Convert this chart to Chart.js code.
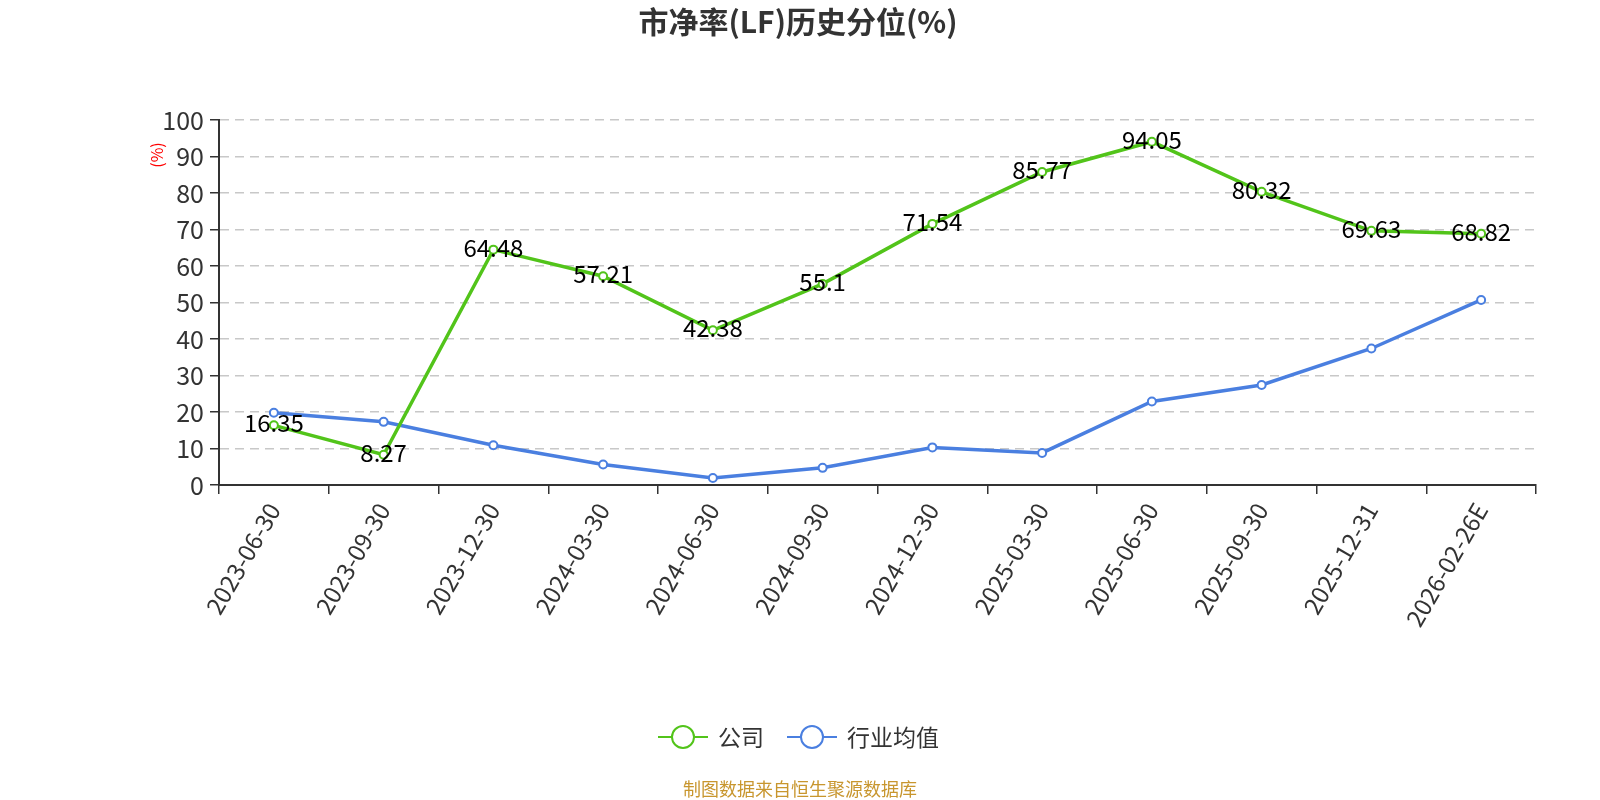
<!DOCTYPE html>
<html>
<head>
<meta charset="utf-8">
<script src="https://cdn.jsdelivr.net/npm/chart.js@4.4.0/dist/chart.umd.min.js"></script>
<style>
html,body{margin:0;padding:0;background:#fff;}
#wrap{width:1600px;height:800px;position:relative;}
</style>
</head>
<body>
<div id="wrap"><canvas id="c" width="1600" height="800"></canvas></div>
<script>
const categories = ['2023-06-30','2023-09-30','2023-12-30','2024-03-30','2024-06-30','2024-09-30','2024-12-30','2025-03-30','2025-06-30','2025-09-30','2025-12-31','2026-02-26E'];
const companyValues = [16.35, 8.27, 64.48, 57.21, 42.38, 55.1, 71.54, 85.77, 94.05, 80.32, 69.63, 68.82];
const industryValues = [19.8, 17.3, 10.9, 5.6, 1.9, 4.7, 10.3, 8.8, 22.9, 27.4, 37.4, 50.7];
const yTicks = [0,10,20,30,40,50,60,70,80,90,100];
const seriesNames = ['公司', '行业均值'];
const titleText = '市净率(LF)历史分位(%)';
const yAxisTitle = '(%)';
const sourceText = '制图数据来自恒生聚源数据库';

const GREEN = '#52c41a';
const BLUE = '#4a7fe0';
const FONT = '"Noto Sans CJK SC", "Noto Sans", sans-serif';

const overlay = {
  id: 'overlay',
  afterDatasetsDraw(chart) {
    const ctx = chart.ctx;
    const meta = chart.getDatasetMeta(0);
    ctx.save();
    ctx.font = '24px ' + FONT;
    ctx.fillStyle = '#000';
    ctx.textAlign = 'center';
    ctx.textBaseline = 'middle';
    meta.data.forEach((pt, i) => {
      ctx.fillText(String(companyValues[i]), pt.x, pt.y - 2);
    });
    ctx.restore();
  },
  afterDraw(chart) {
    const ctx = chart.ctx;
    ctx.save();
    // title
    ctx.font = 'bold 30px ' + FONT;
    ctx.fillStyle = '#333';
    ctx.textAlign = 'center';
    ctx.textBaseline = 'middle';
    ctx.fillText(titleText, 798, 22);
    // y axis title
    ctx.save();
    ctx.translate(157, 155);
    ctx.rotate(-Math.PI / 2);
    ctx.font = '16px ' + FONT;
    ctx.fillStyle = '#ff0000';
    ctx.fillText(yAxisTitle, 0, 0);
    ctx.restore();
    // legend
    const items = [
      {name: seriesNames[0], color: GREEN, cx: 683, tx: 718},
      {name: seriesNames[1], color: BLUE, cx: 812, tx: 847}
    ];
    const ly = 737;
    items.forEach(it => {
      ctx.strokeStyle = it.color;
      ctx.lineWidth = 2;
      ctx.beginPath();
      ctx.moveTo(it.cx - 25, ly);
      ctx.lineTo(it.cx + 25, ly);
      ctx.stroke();
      ctx.beginPath();
      ctx.arc(it.cx, ly, 11, 0, Math.PI * 2);
      ctx.fillStyle = '#fff';
      ctx.fill();
      ctx.stroke();
      ctx.font = '23px ' + FONT;
      ctx.fillStyle = '#333';
      ctx.textAlign = 'left';
      ctx.textBaseline = 'middle';
      ctx.fillText(it.name, it.tx, ly);
    });
    // source
    ctx.font = '18px ' + FONT;
    ctx.fillStyle = '#c8962e';
    ctx.textAlign = 'center';
    ctx.textBaseline = 'middle';
    ctx.fillText(sourceText, 800, 789);
    ctx.restore();
  }
};

new Chart(document.getElementById('c'), {
  type: 'line',
  data: {
    labels: categories,
    datasets: [
      {
        label: seriesNames[0],
        data: companyValues,
        borderColor: GREEN,
        backgroundColor: '#fff',
        borderWidth: 3.5,
        pointRadius: 4,
        pointBorderWidth: 2,
        pointBorderColor: GREEN,
        pointBackgroundColor: '#fff',
        tension: 0
      },
      {
        label: seriesNames[1],
        data: industryValues,
        borderColor: BLUE,
        backgroundColor: '#fff',
        borderWidth: 3.5,
        pointRadius: 4,
        pointBorderWidth: 2,
        pointBorderColor: BLUE,
        pointBackgroundColor: '#fff',
        tension: 0
      }
    ]
  },
  options: {
    responsive: false,
    animation: false,
    devicePixelRatio: 1,
    layout: { padding: { top: 120, right: 64, bottom: 0, left: 0 } },
    plugins: {
      legend: { display: false },
      title: { display: false },
      tooltip: { enabled: false }
    },
    scales: {
      x: {
        offset: true,
        grid: { display: true, drawOnChartArea: false, offset: true, tickLength: 9, color: '#333', lineWidth: 1.5 },
        border: { display: true, color: '#333', width: 2 },
        ticks: {
          autoSkip: false,
          maxRotation: 60,
          minRotation: 60,
          color: '#333',
          font: { size: 24, family: FONT },
          padding: 4
        },
        afterFit(scale) { scale.height = 315; }
      },
      y: {
        min: 0,
        max: 100,
        afterBuildTicks(scale) { scale.ticks = yTicks.map(v => ({ value: v })); },
        grid: {
          color: '#c8c8c8',
          lineWidth: 1.5,
          tickLength: 9,
          tickColor: '#333',
          tickBorderDash: [],
          drawTicks: true
        },
        border: { display: true, color: '#333', width: 2, dash: [9, 6] },
        ticks: {
          color: '#333',
          font: { size: 25, family: FONT },
          padding: 6
        },
        afterFit(scale) { scale.width = 219; }
      }
    }
  },
  plugins: [overlay]
});
</script>
</body>
</html>
